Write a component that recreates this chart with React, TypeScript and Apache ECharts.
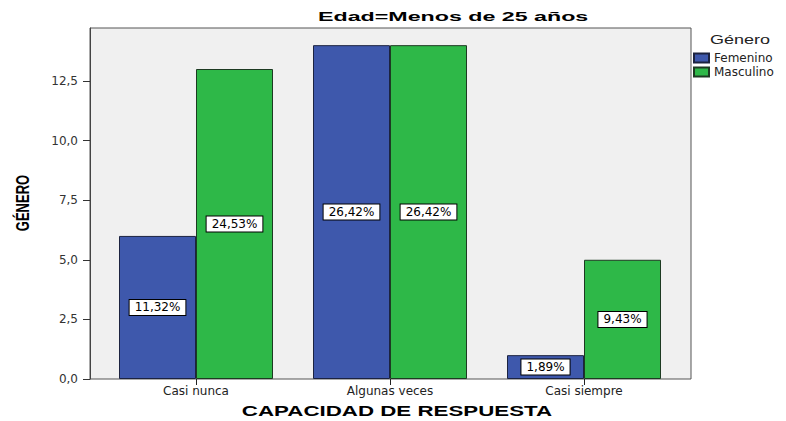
import React, { useEffect, useRef } from "react";
import * as echarts from "echarts";

const categories = ["Casi nunca", "Algunas veces", "Casi siempre"];
const femenino = [6, 14, 1];
const masculino = [13, 14, 5];
const femeninoPct = [11.32, 26.42, 1.89];
const masculinoPct = [24.53, 26.42, 9.43];
const yTicks = [0, 2.5, 5, 7.5, 10, 12.5];
const yMax = 14.72;

const fmt = (v: number, d: number) => v.toFixed(d).replace(".", ",");

export default function App() {
  const ref = useRef<HTMLDivElement>(null);
  useEffect(() => {
    if (!ref.current) return;
    const chart = echarts.init(ref.current, null, { renderer: "svg" });
    const labelStyle = {
      show: true,
      position: "inside",
      fontFamily: "DejaVu Sans",
      fontSize: 12,
      lineHeight: 13,
      color: "#000",
      backgroundColor: "#fff",
      borderColor: "#000",
      borderWidth: 1,
      padding: [1, 5, 1, 5],
    };
    const pcts = [femeninoPct, masculinoPct];
    chart.setOption({
      animation: false,
      backgroundColor: "#fff",
      grid: [
        {
          left: 90,
          top: 28,
          width: 601,
          height: 351,
          show: true,
          backgroundColor: "#F0F0F0",
          borderColor: "#555",
          borderWidth: 1,
        },
        { left: 99, top: 28, width: 582, height: 351 },
      ],
      xAxis: [
        { gridIndex: 0, type: "value", show: false, min: 0, max: 1 },
        {
          gridIndex: 1,
          type: "category",
          data: categories,
          axisLine: { show: false },
          axisTick: {
            show: true,
            alignWithLabel: true,
            length: 6,
            lineStyle: { color: "#222" },
          },
          axisLabel: {
            fontFamily: "DejaVu Sans",
            fontSize: 12,
            color: "#222",
            margin: 6,
          },
        },
      ],
      yAxis: [
        {
          gridIndex: 0,
          type: "value",
          min: 0,
          max: yMax,
          splitLine: { show: false },
          axisLine: { show: true, lineStyle: { color: "#444" } },
          axisTick: {
            show: true,
            length: 7,
            customValues: yTicks,
            lineStyle: { color: "#333" },
          },
          axisLabel: {
            customValues: yTicks,
            fontFamily: "DejaVu Sans",
            fontSize: 12,
            color: "#333",
            margin: 12,
            formatter: (v: number) => fmt(v, 1),
          },
        },
        { gridIndex: 1, type: "value", min: 0, max: yMax, show: false },
      ],
      legend: {
        orient: "vertical",
        left: 693,
        top: 52,
        padding: 0,
        itemWidth: 15,
        itemHeight: 9,
        itemGap: 2,
        icon: "rect",
        textStyle: {
          fontFamily: "DejaVu Sans",
          fontSize: 12,
          lineHeight: 10,
          color: "#222",
        },
        data: ["Femenino", "Masculino"],
      },
      series: [
        {
          name: "Femenino",
          type: "bar",
          xAxisIndex: 1,
          yAxisIndex: 1,
          data: femenino,
          barWidth: 77,
          barGap: "0%",
          itemStyle: { color: "#3E58AC", borderColor: "#1c2340", borderWidth: 1 },
          label: { ...labelStyle, formatter: (p: any) => fmt(pcts[0][p.dataIndex], 2) + "%" },
        },
        {
          name: "Masculino",
          type: "bar",
          xAxisIndex: 1,
          yAxisIndex: 1,
          data: masculino,
          barWidth: 77,
          barGap: "0%",
          itemStyle: { color: "#2EB848", borderColor: "#1d3a22", borderWidth: 1 },
          label: { ...labelStyle, formatter: (p: any) => fmt(pcts[1][p.dataIndex], 2) + "%" },
        },
      ],
      graphic: [
        {
          type: "text",
          x: 318,
          y: 16,
          scaleX: 1.72,
          style: {
            text: "Edad=Menos de 25 años",
            font: "bold 13.5px 'Liberation Sans', Arial, sans-serif",
            fill: "#000",
            textAlign: "left",
            textVerticalAlign: "middle",
          },
        },
        {
          type: "text",
          x: 397,
          y: 411,
          scaleX: 1.44,
          style: {
            text: "CAPACIDAD DE RESPUESTA",
            font: "bold 15.5px 'Liberation Sans', Arial, sans-serif",
            fill: "#000",
            textAlign: "center",
            textVerticalAlign: "middle",
          },
        },
        {
          type: "text",
          x: 22,
          y: 203,
          rotation: Math.PI / 2,
          scaleY: 1.44,
          style: {
            text: "GÉNERO",
            font: "bold 13px 'Liberation Sans', Arial, sans-serif",
            fill: "#000",
            textAlign: "center",
            textVerticalAlign: "middle",
          },
        },
        {
          type: "text",
          x: 710,
          y: 40,
          scaleX: 1.44,
          style: {
            text: "Género",
            font: "12.5px 'Liberation Sans', Arial, sans-serif",
            fill: "#222",
            textAlign: "left",
            textVerticalAlign: "middle",
          },
        },
      ],
    });
    return () => chart.dispose();
  }, []);
  return (
    <div
      ref={ref}
      style={{ position: "absolute", left: 0, top: 0, width: 786, height: 421 }}
    />
  );
}
